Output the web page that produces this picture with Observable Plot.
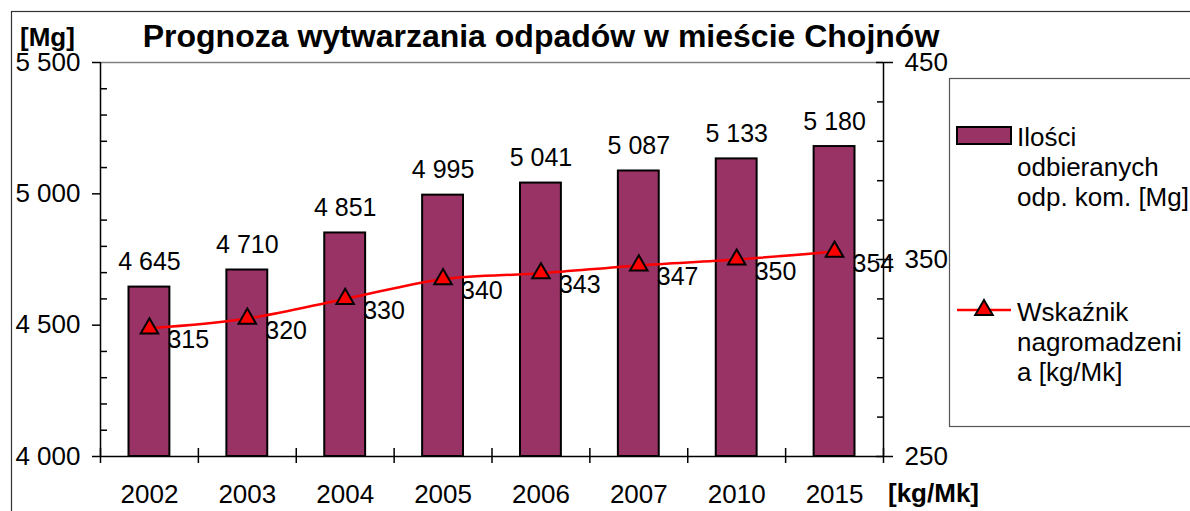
<!DOCTYPE html>
<html><head><meta charset="utf-8">
<script src="https://cdn.jsdelivr.net/npm/d3@7"></script>
<script src="https://cdn.jsdelivr.net/npm/@observablehq/plot@0.6"></script>
<style>
body{margin:0;background:#fff}
#chart{position:relative;width:1190px;height:511px;overflow:hidden}
</style>
</head><body><div id="chart"></div>
<script>
// ---- data ----
const years = ["2002","2003","2004","2005","2006","2007","2010","2015"];
const amounts = [4645, 4710, 4851, 4995, 5041, 5087, 5133, 5180];
const rates = [315, 320, 330, 340, 343, 347, 350, 354];
const leftTicks = [4000, 4500, 5000, 5500];
const rightTicks = [250, 350, 450];
const leftDomain = [4000, 5500];
const rightDomain = [250, 450];
const leftMinorStep = 100;
const rightMinorStep = 20;
const titleText = "Prognoza wytwarzania odpadów w mieście Chojnów";
const leftUnit = "[Mg]";
const rightUnit = "[kg/Mk]";
const seriesBars = ["Ilości", "odbieranych", "odp. kom. [Mg]"];
const seriesLine = ["Wskaźnik", "nagromadzeni", "a [kg/Mk]"];

// ---- helpers ----
const toLeft = v => leftDomain[0] + (v - rightDomain[0]) * (leftDomain[1] - leftDomain[0]) / (rightDomain[1] - rightDomain[0]);
const toRight = v => rightDomain[0] + (v - leftDomain[0]) * (rightDomain[1] - rightDomain[0]) / (leftDomain[1] - leftDomain[0]);
const fmt = d => d3.format(",")(d).replace(/,/g, " ");
const data = years.map((y, i) => ({i, year: y, amount: amounts[i], rate: rates[i], rateL: toLeft(rates[i])}));
const leftMinor = d3.range(leftDomain[0], leftDomain[1] + 1, leftMinorStep).filter(v => !leftTicks.includes(v));
const rightMinor = d3.range(rightDomain[0], rightDomain[1] + 1, rightMinorStep).filter(v => !rightTicks.includes(v)).map(toLeft);
const FONT = "'Liberation Sans', Arial, Helvetica, sans-serif";
const BAR = "#993366";
const LINE = "#ff0000";
const cx = d => d.i + 0.5;

const chart = Plot.plot({
  width: 1190, height: 511,
  marginLeft: 100, marginRight: 307, marginTop: 62, marginBottom: 55,
  style: {fontFamily: FONT, fontSize: "25px", color: "#000", background: "transparent", overflow: "visible"},
  x: {type: "linear", domain: [0, years.length], axis: null, label: null},
  y: {domain: leftDomain, axis: null, label: null},
  marks: [
    Plot.ruleY([leftDomain[1]], {x1: 0, x2: years.length, stroke: "#808080", strokeWidth: 1.5}),
    Plot.rectY(data, {x1: "i", x2: d => d.i + 1, y1: () => leftDomain[0], y2: "amount", insetLeft: 28.5, insetRight: 28.5, fill: BAR, stroke: "#000", strokeWidth: 2}),
    Plot.ruleX([0], {y1: leftDomain[0], y2: leftDomain[1], stroke: "#000", strokeWidth: 1.5}),
    Plot.ruleX([years.length], {y1: leftDomain[0], y2: leftDomain[1], stroke: "#000", strokeWidth: 1.5}),
    Plot.ruleY([leftDomain[0]], {x1: 0, x2: years.length, stroke: "#000", strokeWidth: 1.5}),
    // left axis
    Plot.axisY({anchor: "left", label: null, ticks: leftTicks, tickSize: 8, tickPadding: 12, tickFormat: fmt, fontSize: 26, strokeWidth: 1.5}),
    Plot.axisY({anchor: "left", label: null, ticks: leftMinor, tickSize: 7, insetLeft: 7, tickFormat: () => "", strokeWidth: 1.5}),
    // right axis
    Plot.axisY({anchor: "right", label: null, ticks: rightTicks.map(toLeft), tickSize: 17, insetRight: 8, tickPadding: 12, tickFormat: d => String(Math.round(toRight(d))), fontSize: 26, strokeWidth: 1.5}),
    Plot.axisY({anchor: "right", label: null, ticks: rightMinor, tickSize: 7, insetRight: 7, tickFormat: () => "", strokeWidth: 1.5}),
    // x axis
    Plot.axisX({anchor: "bottom", label: null, ticks: d3.range(0, years.length + 1), tickSize: 15, insetBottom: 8, tickFormat: () => "", strokeWidth: 1.5}),
    Plot.axisX({anchor: "bottom", label: null, ticks: d3.range(years.length).map(i => i + 0.5), tickSize: 0, tickPadding: 28, tickFormat: d => years[Math.floor(d)], fontSize: 26}),
    // line
    Plot.line(data, {x: cx, y: "rateL", stroke: LINE, strokeWidth: 2.5, curve: "catmull-rom"}),
    Plot.dot(data, {x: cx, y: "rateL", symbol: "triangle", r: 6.5, fill: LINE, stroke: "#000", strokeWidth: 2}),
    // labels
    Plot.text(data, {x: cx, y: "amount", text: d => fmt(d.amount), dy: -25, fontSize: 25}),
    Plot.text(data, {x: cx, y: "rateL", text: d => String(d.rate), textAnchor: "start", dx: 18, dy: 12, fontSize: 25})
  ]
});
document.getElementById("chart").appendChild(chart);

// ---- decorations: title, units, legend, border ----
const svg = d3.select(chart);
const g = svg.append("g").attr("font-family", FONT).attr("fill", "#000").attr("text-anchor", "start");
g.append("text").attr("x", 541).attr("y", 36).attr("dy", "0.35em").attr("text-anchor", "middle")
  .attr("font-size", 32).attr("font-weight", "bold").text(titleText);
g.append("text").attr("x", 20).attr("y", 37).attr("dy", "0.35em").attr("font-size", 26).attr("font-weight", "bold").text(leftUnit);
g.append("text").attr("x", 888).attr("y", 493).attr("dy", "0.35em").attr("font-size", 26).attr("font-weight", "bold").text(rightUnit);

const lg = svg.append("g").attr("font-family", FONT).attr("text-anchor", "start").attr("fill", "#000");
lg.append("rect").attr("x", 949.5).attr("y", 78.5).attr("width", 300).attr("height", 348).attr("fill", "#fff").attr("stroke", "#555").attr("stroke-width", 1.2);
lg.append("rect").attr("x", 957).attr("y", 127).attr("width", 54).attr("height", 17).attr("fill", BAR).attr("stroke", "#000").attr("stroke-width", 2);
seriesBars.forEach((t, k) => lg.append("text").attr("x", 1017).attr("y", 137 + 30 * k).attr("dy", "0.35em").attr("font-size", 26).text(t));
lg.append("line").attr("x1", 957).attr("x2", 1011).attr("y1", 310).attr("y2", 310).attr("stroke", LINE).attr("stroke-width", 2.5);
lg.append("path").attr("transform", "translate(984,310)").attr("d", d3.symbol(d3.symbolTriangle, Math.PI * 6.5 * 6.5)()).attr("fill", LINE).attr("stroke", "#000").attr("stroke-width", 2);
seriesLine.forEach((t, k) => lg.append("text").attr("x", 1017).attr("y", 312 + 30 * k).attr("dy", "0.35em").attr("font-size", 26).text(t));

svg.append("rect").attr("x", 11.5).attr("y", 11.5).attr("width", 1400).attr("height", 800).attr("fill", "none").attr("stroke", "#333").attr("stroke-width", 1.2);
</script>
</body></html>
